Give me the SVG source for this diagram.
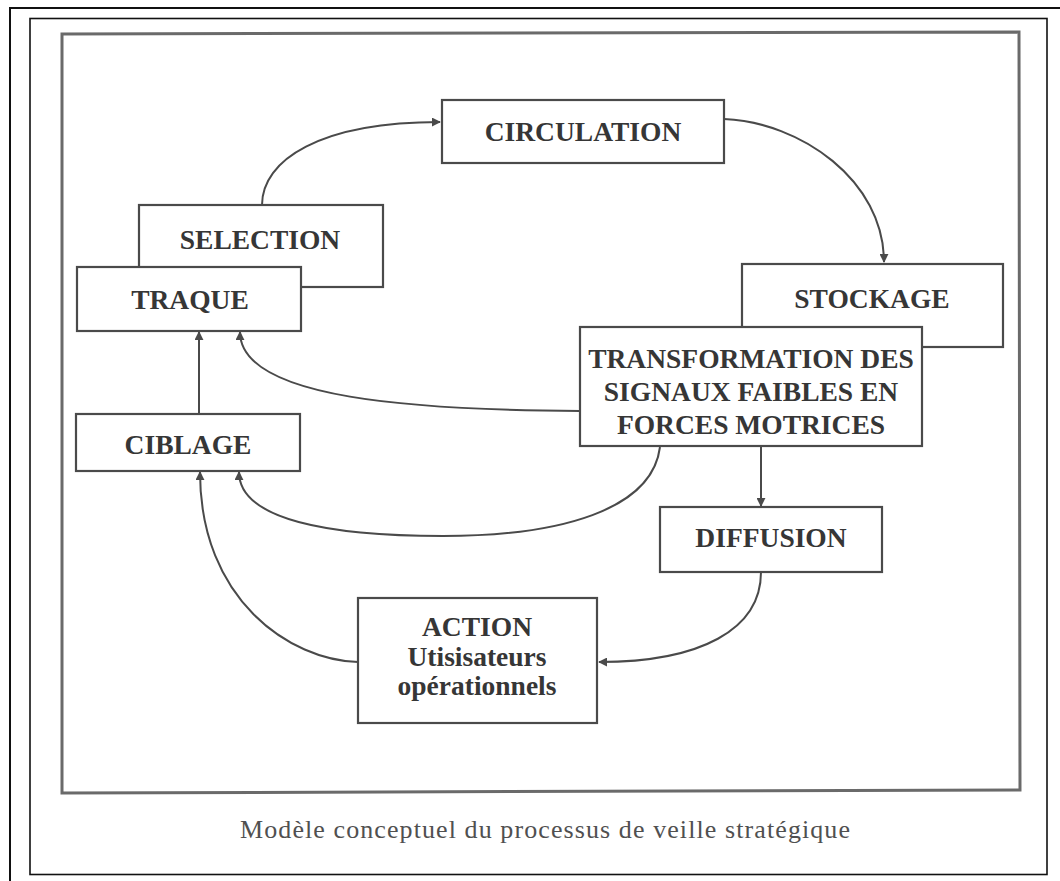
<svg xmlns="http://www.w3.org/2000/svg" width="1060" height="881" viewBox="0 0 1060 881">
<defs>
<style>
.box{fill:#fff;stroke:#4a4a4a;stroke-width:2.2}
.lbl{font-family:"Liberation Serif","Times New Roman",serif;font-weight:bold;font-size:27.5px;fill:#363636;text-anchor:middle}
.con{fill:none;stroke:#4a4a4a;stroke-width:2}
.cap{font-family:"Liberation Serif","Times New Roman",serif;font-size:26px;fill:#505050;text-anchor:middle}
</style>
<marker id="ah" viewBox="0 0 10 10" refX="9" refY="5" markerWidth="9" markerHeight="9" markerUnits="userSpaceOnUse" orient="auto">
<path d="M0,0 L10,5 L0,10 z" fill="#4a4a4a"/>
</marker>
</defs>
<rect width="1060" height="881" fill="#fff"/>
<g id="frames">
<rect x="10" y="8" width="1070" height="890" fill="none" stroke="#111" stroke-width="2"/>
<rect x="30" y="18.5" width="1017" height="856" fill="none" stroke="#111" stroke-width="1.6"/>
<path d="M62,34 L1019,32 L1020,790 L62,793 Z" fill="none" stroke="#6a6a6a" stroke-width="3"/>
</g>
<g id="connectors">
<path class="con" d="M262,205 C262,160 320,122 440,122" marker-end="url(#ah)"/>
<path class="con" d="M724,119 C800,122 884,180 884,262" marker-end="url(#ah)"/>
<path class="con" d="M580,411 C420,410 240,400 240,332" marker-end="url(#ah)"/>
<path class="con" d="M199,414 L199,332" marker-end="url(#ah)"/>
<path class="con" d="M660,447 C652,510 560,536 443,536 C330,536 239,520 239,472" marker-end="url(#ah)"/>
<path class="con" d="M761,447 L761,506" marker-end="url(#ah)"/>
<path class="con" d="M761,572 C761,630 700,662 599,662" marker-end="url(#ah)"/>
<path class="con" d="M358,662 C290,660 200,600 200,472" marker-end="url(#ah)"/>
</g>
<g id="circulation">
<rect class="box" x="442" y="100" width="282" height="63"/>
<text class="lbl" x="583" y="141">CIRCULATION</text>
</g>
<g id="selection">
<rect class="box" x="139" y="205" width="244" height="82"/>
<text class="lbl" x="260" y="249">SELECTION</text>
</g>
<g id="traque">
<rect class="box" x="77" y="267" width="224" height="64"/>
<text class="lbl" x="190" y="309">TRAQUE</text>
</g>
<g id="stockage">
<rect class="box" x="742" y="264" width="261" height="83"/>
<text class="lbl" x="872" y="308">STOCKAGE</text>
</g>
<g id="transformation">
<rect class="box" x="580" y="327" width="342" height="119"/>
<text class="lbl" x="751" y="368">TRANSFORMATION DES</text>
<text class="lbl" x="751" y="401">SIGNAUX FAIBLES EN</text>
<text class="lbl" x="751" y="434">FORCES MOTRICES</text>
</g>
<g id="ciblage">
<rect class="box" x="76" y="414" width="224" height="57"/>
<text class="lbl" x="188" y="454">CIBLAGE</text>
</g>
<g id="diffusion">
<rect class="box" x="660" y="507" width="222" height="65"/>
<text class="lbl" x="771" y="547">DIFFUSION</text>
</g>
<g id="action">
<rect class="box" x="358" y="598" width="239" height="125"/>
<text class="lbl" x="477" y="636">ACTION</text>
<text class="lbl" x="477" y="666">Utisisateurs</text>
<text class="lbl" x="477" y="695">opérationnels</text>
</g>
<text class="cap" x="545" y="838" textLength="610" lengthAdjust="spacing">Modèle conceptuel du processus de veille stratégique</text>
</svg>
